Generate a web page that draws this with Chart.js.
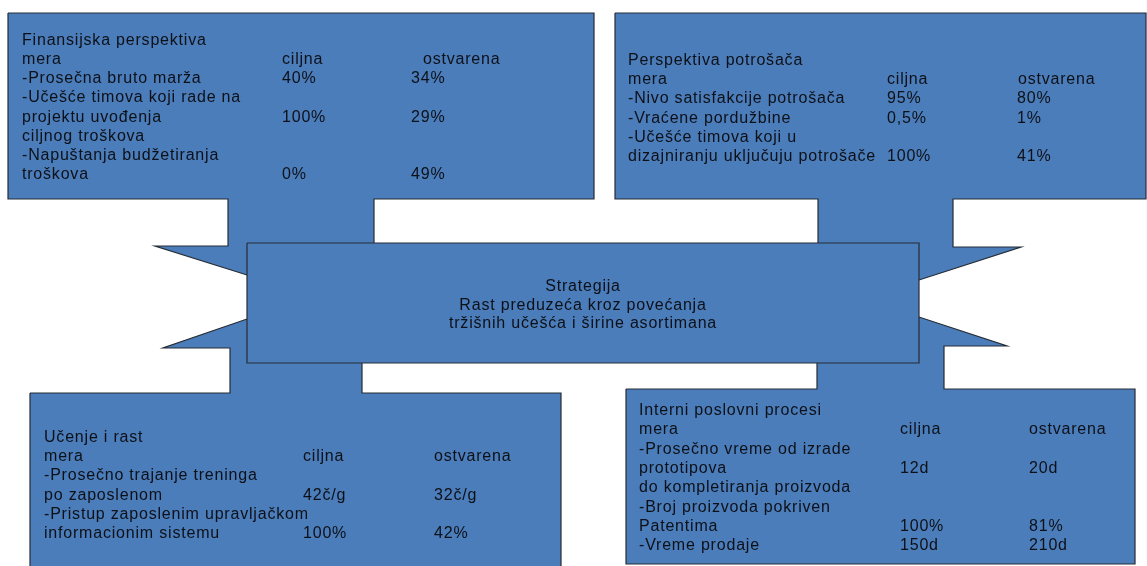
<!DOCTYPE html>
<html><head><meta charset="utf-8">
<script src="https://cdn.jsdelivr.net/npm/chart.js@4"></script>
<style>html,body{margin:0;padding:0;background:#fff;overflow:hidden}#wrap{width:1147px;height:566px;position:relative}</style>
</head><body><div id="wrap"><canvas id="c"></canvas></div>
<script>
// Shape outlines (diagram coordinates: x 0..1147, y 0..566 downward)
const centerBox = [[247,243],[919,243],[919,363],[247,363]];
const finCallout = [[8,13],[594,13],[594,199],[374,199],[374,275],[247,275],[155,246],[228,246],[228,199],[8,199]];
const custCallout = [[615,13],[1146,13],[1146,199],[953,199],[953,247],[1021,247],[919,280],[818,280],[818,199],[615,199]];
const learnCallout = [[30,393],[230,393],[230,348],[163,348],[247,319],[362,319],[362,393],[561,393],[561,590],[30,590]];
const procCallout = [[626,389],[817,389],[817,317],[919,317],[1007,346],[944,346],[944,389],[1135,389],[1135,564],[626,564]];

// Text content: [label, ciljna, ostvarena]
const finLines = [
  ["Finansijska perspektiva"],
  ["mera","ciljna","ostvarena"],
  ["-Prosečna bruto marža","40%","34%"],
  ["-Učešće timova koji rade na"],
  ["projektu uvođenja","100%","29%"],
  ["ciljnog troškova"],
  ["-Napuštanja budžetiranja"],
  ["troškova","0%","49%"]
];
const custLines = [
  ["Perspektiva potrošača"],
  ["mera","ciljna","ostvarena"],
  ["-Nivo satisfakcije potrošača","95%","80%"],
  ["-Vraćene pordužbine","0,5%","1%"],
  ["-Učešće timova koji u"],
  ["dizajniranju uključuju potrošače","100%","41%"]
];
const stratLines = ["Strategija","Rast preduzeća kroz povećanja","tržišnih učešća i širine asortimana"];
const learnLines = [
  ["Učenje i rast"],
  ["mera","ciljna","ostvarena"],
  ["-Prosečno trajanje treninga"],
  ["po zaposlenom","42č/g","32č/g"],
  ["-Pristup zaposlenim upravljačkom"],
  ["informacionim sistemu","100%","42%"]
];
const procLines = [
  ["Interni poslovni procesi"],
  ["mera","ciljna","ostvarena"],
  ["-Prosečno vreme od izrade"],
  ["prototipova","12d","20d"],
  ["do kompletiranja proizvoda"],
  ["-Broj proizvoda pokriven"],
  ["Patentima","100%","81%"],
  ["-Vreme prodaje","150d","210d"]
];

const FILL = '#4a7db9', EDGE = '#262c36', INK = '#0e1018';
function shapeDs(pts){
  const d = pts.concat([pts[0]]).map(([x,y])=>({x,y}));
  return {data:d, showLine:true, fill:'shape', backgroundColor:FILL, borderColor:EDGE, borderWidth:1.2, pointRadius:0, tension:0};
}

// Text blocks: lines, x columns [label, ciljna-header, ostvarena-header, ostvarena-values], first baseline, line step
const blocks = [
  {lines:finLines, cols:[22,282,423,411], y0:45, dy:19.15},
  {lines:custLines, cols:[628,887,1018,1017], y0:65, dy:19.2},
  {lines:learnLines, cols:[44,303,434,434], y0:442, dy:19.2},
  {lines:procLines, cols:[639,900,1029,1029], y0:415, dy:19.3}
];

const textPlugin = {
  id:'diagramText',
  afterDatasetsDraw(chart){
    const {ctx, scales:{x, y}} = chart;
    ctx.save();
    ctx.font = '16px "Liberation Sans", Arial, sans-serif';
    ctx.fillStyle = INK;
    ctx.textBaseline = 'alphabetic';
    if ('letterSpacing' in ctx) ctx.letterSpacing = '0.8px';
    blocks.forEach(b=>{
      b.lines.forEach((ln,i)=>{
        const yy = y.getPixelForValue(b.y0 + i*b.dy);
        ctx.textAlign = 'left';
        ctx.fillText(ln[0], x.getPixelForValue(b.cols[0]), yy);
        if (ln[1]) ctx.fillText(ln[1], x.getPixelForValue(b.cols[1]), yy);
        if (ln[2]) ctx.fillText(ln[2], x.getPixelForValue(i===1 ? b.cols[2] : b.cols[3]), yy);
      });
    });
    ctx.textAlign = 'center';
    const sy = [291, 309.5, 328];
    stratLines.forEach((t,i)=> ctx.fillText(t, x.getPixelForValue(583), y.getPixelForValue(sy[i])));
    ctx.restore();
  }
};

new Chart(document.getElementById('c'), {
  type:'scatter',
  data:{datasets:[shapeDs(centerBox), shapeDs(finCallout), shapeDs(custCallout), shapeDs(learnCallout), shapeDs(procCallout)]},
  options:{
    responsive:true, maintainAspectRatio:false, animation:false,
    layout:{padding:0},
    plugins:{legend:{display:false}, tooltip:{enabled:false}},
    events:[],
    scales:{
      x:{type:'linear', min:0, max:1147, display:false},
      y:{type:'linear', min:0, max:566, reverse:true, display:false}
    }
  },
  plugins:[textPlugin]
});
</script>
</body></html>
